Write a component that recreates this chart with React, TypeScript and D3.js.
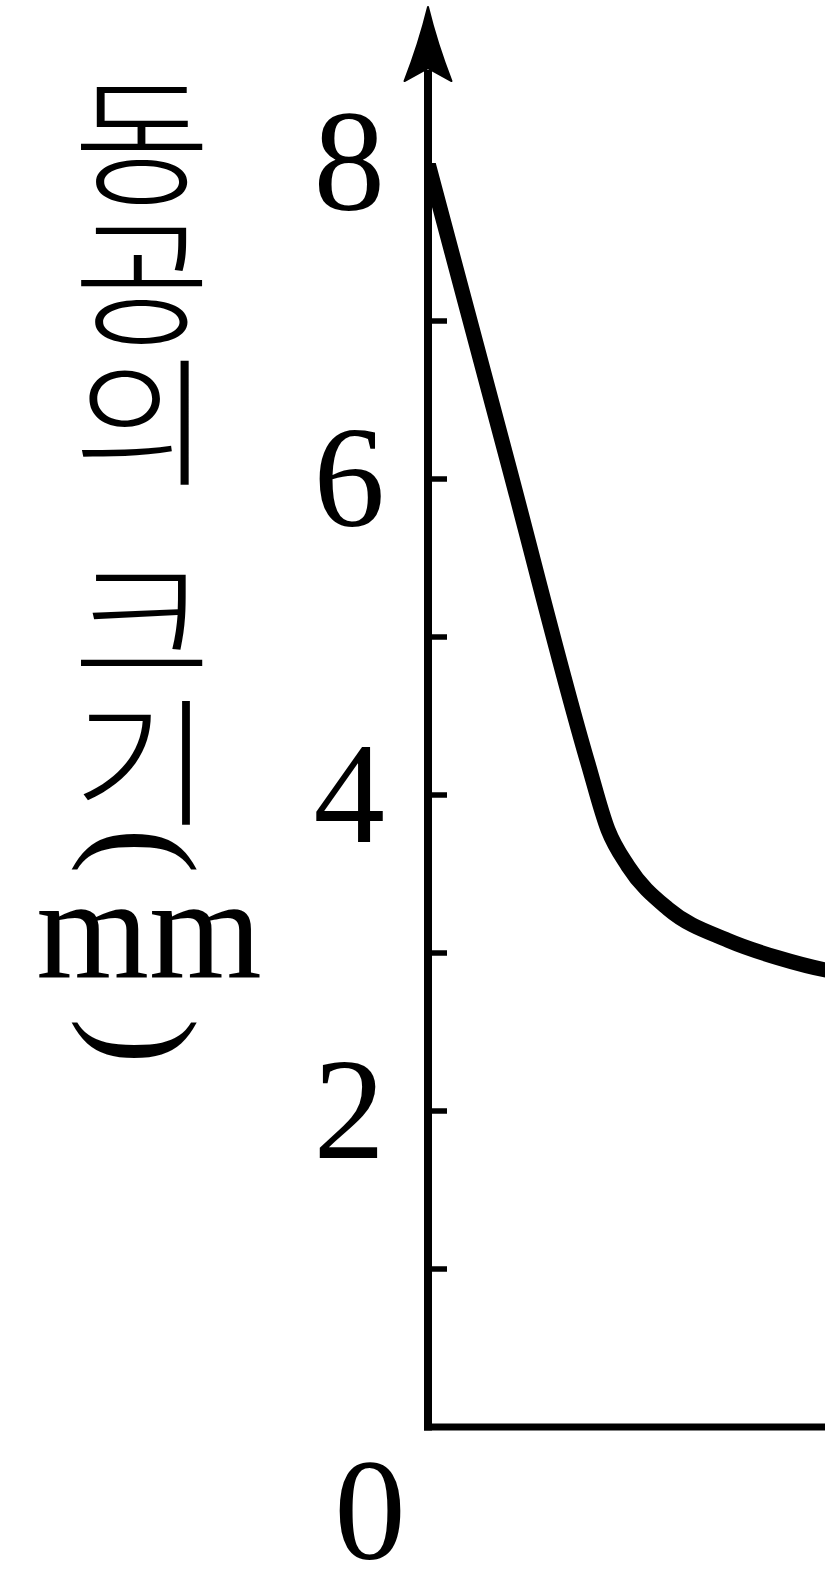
import React from "react";
import * as d3 from "d3";

// Pupil size over time
const timeValues = [0, 2, 4, 4.5, 5, 6, 7.5, 8.75, 10, 11];
const pupilSize = [8, 6.1, 4.2, 3.78, 3.55, 3.28, 3.08, 2.97, 2.89, 2.86];

// Y axis ticks
const sizeTicks = [1, 2, 3, 4, 5, 6, 7];
const sizeLabels = [2, 4, 6, 8];
const originLabel = "0";

// Axis title, set vertically
const titleHangul = ["동", "공", "의", "크", "기"];
const titleUnit = "mm";

const W = 825;
const H = 1570;
const AXIS_X = 428;
const AXIS_Y = 1427;
const TOP_Y = 163;

const serif = "'Liberation Serif', 'Times New Roman', serif";
const hangulFont = "'Noto Sans CJK KR', 'Noto Sans', sans-serif";

export default function App() {
  const x = d3.scaleLinear().domain([0, 10]).range([AXIS_X, AXIS_X + 400]);
  const y = d3.scaleLinear().domain([0, 8]).range([AXIS_Y, TOP_Y]);

  const line = d3
    .line<number>()
    .x((_, i) => x(timeValues[i]))
    .y((d) => y(d))
    .curve(d3.curveMonotoneX);

  const pathD = line(pupilSize) || "";

  // title layout
  const titleTop = 134;
  const pitch = 140;
  const spaceGap = 60;
  const hangulY = titleHangul.map((_, i) => titleTop + i * pitch + (i >= 3 ? spaceGap : 0));

  const arrowTip = 7;
  const arrowBase = 81;
  const arrowNotch = 68;
  const arrowHalf = 23.5;
  const arrowMid = (arrowTip + arrowBase) / 2;

  return (
    <svg
      width={W}
      height={H}
      viewBox={`0 0 ${W} ${H}`}
      style={{ position: "absolute", left: 0, top: 0, background: "#fff" }}
    >
      <defs>
        <clipPath id="plotClip">
          <rect x={AXIS_X - 4} y={y(8)} width={W} height={AXIS_Y - y(8)} />
        </clipPath>
      </defs>
      <rect x={0} y={0} width={W} height={H} fill="#fff" />

      {/* y axis line and arrow */}
      <line x1={AXIS_X} x2={AXIS_X} y1={AXIS_Y + 3.5} y2={arrowNotch + 2} stroke="#000" strokeWidth={8} />
      <path
        d={`M${AXIS_X},${arrowTip} Q${AXIS_X + 9},${arrowMid} ${AXIS_X + arrowHalf},${arrowBase} L${AXIS_X},${arrowNotch} L${AXIS_X - arrowHalf},${arrowBase} Q${AXIS_X - 9},${arrowMid} ${AXIS_X},${arrowTip} Z`}
        fill="#000"
        stroke="#000"
        strokeWidth={2}
        strokeLinejoin="round"
      />

      {/* x axis line */}
      <line x1={AXIS_X - 4} x2={W + 5} y1={AXIS_Y} y2={AXIS_Y} stroke="#000" strokeWidth={7} />

      {/* tick marks */}
      {sizeTicks.map((t) => (
        <line key={t} x1={AXIS_X} x2={AXIS_X + 19} y1={y(t)} y2={y(t)} stroke="#000" strokeWidth={5.5} />
      ))}

      {/* tick labels */}
      {sizeLabels.map((t) => (
        <text
          key={t}
          x={AXIS_X - 43}
          y={y(t) + 47}
          textAnchor="end"
          fontFamily={serif}
          fontSize={143}
          fill="#000"
        >
          {t}
        </text>
      ))}
      <text x={AXIS_X - 58} y={AXIS_Y + 132} textAnchor="middle" fontFamily={serif} fontSize={143} fill="#000">
        {originLabel}
      </text>

      {/* axis title */}
      {titleHangul.map((ch, i) => (
        <text
          key={ch}
          transform={`translate(142,${hangulY[i]}) scale(1.09,1)`}
          textAnchor="middle"
          dominantBaseline="central"
          fontFamily={hangulFont}
          fontWeight={300}
          fontSize={138}
          fill="#000"
        >
          {ch}
        </text>
      ))}
      <text
        x={147}
        y={851}
        textAnchor="middle"
        dominantBaseline="central"
        fontFamily={serif}
        fontSize={138}
        transform="rotate(90 147 851)"
        fill="#000"
      >
        (
      </text>
      <text x={149} y={977} textAnchor="middle" fontFamily={serif} fontSize={145} fill="#000">
        {titleUnit}
      </text>
      <text
        x={147}
        y={1041}
        textAnchor="middle"
        dominantBaseline="central"
        fontFamily={serif}
        fontSize={138}
        transform="rotate(90 147 1041)"
        fill="#000"
      >
        )
      </text>

      {/* pupil size curve */}
      <g clipPath="url(#plotClip)">
        <path d={pathD} fill="none" stroke="#000" strokeWidth={15} strokeLinejoin="round" />
      </g>
    </svg>
  );
}
